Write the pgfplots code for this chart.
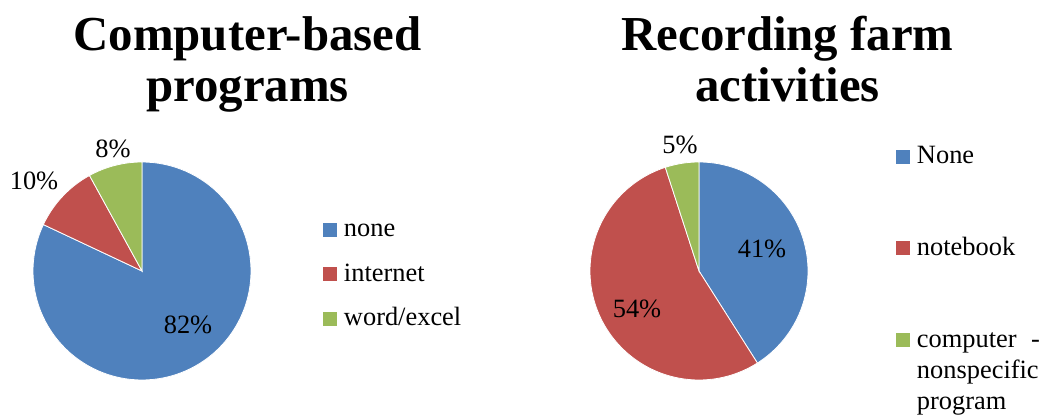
\documentclass[border=0pt]{standalone}
\usepackage{fontspec}
\setmainfont{Liberation Serif}
\usepackage{pgfplots}
\pgfplotsset{compat=1.18}
\definecolor{cblue}{HTML}{4F81BD}
\definecolor{cred}{HTML}{C0504D}
\definecolor{cgreen}{HTML}{9BBB59}

% #1 cx, #2 cy, #3 radius, #4 start (percent), #5 value (percent), #6 colour
\newcommand\slice[6]{%
\addplot[fill=#6, draw=white, line width=0.8bp, variable=\t, domain=-0.02:1, samples=103]
 ({#1 + ((\t<0) ? 0 : #3)*cos(90 - 3.6*(#4 + #5*max(\t,0)))},
  {#2 + ((\t<0) ? 0 : #3)*sin(90 - 3.6*(#4 + #5*max(\t,0)))}) -- cycle;}

\pgfplotsset{pieaxis/.style={
  x=1bp, y=1bp, xmin=0, xmax=521, ymin=0, ymax=417,
  hide axis, clip=false,
  legend image code/.code={\path[##1,draw=none] (0bp,0bp) rectangle (14bp,14bp);},
  legend style={draw=none, fill=none, inner sep=0pt, outer sep=0pt,
    column sep=5bp, font=\fontsize{26.5}{30}\selectfont,
    cells={anchor=base west, inner sep=0pt}},
}}
\newcommand\titlefont{\fontsize{49}{58}\selectfont\bfseries}
\newcommand\lblfont{\fontsize{26.5}{30}\selectfont}

\begin{document}
\begin{tikzpicture}
% ---------- left: Computer-based programs ----------
\begin{axis}[pieaxis, at={(0bp,0bp)}, anchor=south west,
  legend style={at={(323/521,203/417)}, anchor=north west, row sep=18bp}]
\slice{142}{146}{109}{0}{82}{cblue}
\addlegendentry{\strut none}
\slice{142}{146}{109}{82}{10}{cred}
\addlegendentry{\strut internet}
\slice{142}{146}{109}{92}{8}{cgreen}
\addlegendentry{\strut word/excel}
\node[anchor=base, font=\titlefont] at (axis cs:247.5,367) {Computer-based};
\node[anchor=base, font=\titlefont] at (axis cs:247.5,316) {programs};
\node[anchor=base, font=\lblfont] at (axis cs:188,84) {82\%};
\node[anchor=base, font=\lblfont] at (axis cs:34,228) {10\%};
\node[anchor=base, font=\lblfont] at (axis cs:113,260) {8\%};
\end{axis}
% ---------- right: Recording farm activities ----------
\begin{axis}[pieaxis, at={(521bp,0bp)}, anchor=south west,
  legend style={at={(375/521,276/417)}, anchor=north west, row sep=65bp}]
\slice{178}{146}{109}{0}{41}{cblue}
\addlegendentry{\strut None}
\slice{178}{146}{109}{41}{54}{cred}
\addlegendentry{\strut notebook}
\slice{178}{146}{109}{95}{5}{cgreen}
\addlegendentry{\parbox[t]{123bp}{\fontsize{26.5}{31}\selectfont\strut computer\hfill-\\\strut nonspecific\\\strut program}}
\node[anchor=base, font=\titlefont] at (axis cs:266.5,367) {Recording farm};
\node[anchor=base, font=\titlefont] at (axis cs:266.5,316) {activities};
\node[anchor=base, font=\lblfont] at (axis cs:241,160) {41\%};
\node[anchor=base, font=\lblfont] at (axis cs:116,100) {54\%};
\node[anchor=base, font=\lblfont] at (axis cs:159,264) {5\%};
\end{axis}
\pgfresetboundingbox
\path (0bp,0bp) rectangle (1042bp,417bp);
\end{tikzpicture}
\end{document}
